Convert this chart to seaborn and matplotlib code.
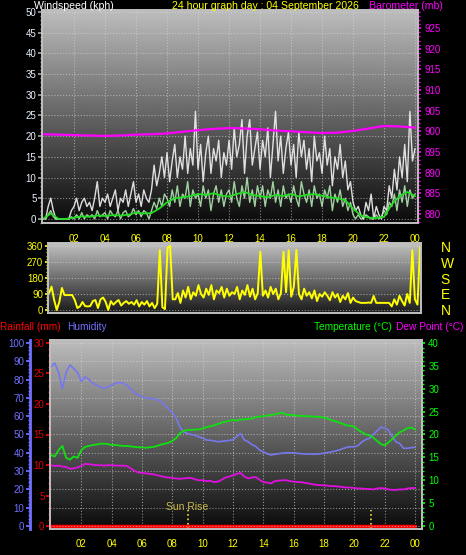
import matplotlib
matplotlib.use("Agg")
import matplotlib.pyplot as plt
from matplotlib.ticker import MultipleLocator
import numpy as np
import pandas as pd
import seaborn as sns

# 10-minute wind samples (rows of 2 hours), last value at 24:00
wind_gust = [
    0, 0, 3, 5, 2, 0, 0, 0, 0, 0, 0, 2,
    3, 5, 2, 4, 5, 3, 4, 2, 5, 9, 3, 5,
    4, 6, 3, 5, 7, 2, 5, 4, 7, 3, 6, 9,
    4, 6, 3, 7, 5, 4, 7, 13, 8, 11, 15, 10,
    16, 9, 14, 18, 10, 15, 12, 20, 11, 17, 13, 26,
    12, 18, 9, 16, 20, 11, 17, 14, 19, 10, 16, 13,
    19, 12, 22, 15, 18, 24, 11, 20, 24, 13, 17, 21,
    12, 19, 15, 22, 10, 18, 26, 14, 20, 11, 17, 21,
    13, 18, 10, 21, 15, 19, 12, 17, 9, 20, 14, 16,
    11, 20, 13, 17, 8, 15, 12, 18, 10, 14, 7, 9,
    4, 2, 3, 1, 0, 4, 2, 6, 0, 3, 1, 0,
    3, 2, 8, 5, 12, 7, 15, 10, 18, 9, 26, 14,
    17,
]
wind_avg = [
    0, 0, 1, 2, 0.5, 0, 0, 0, 0, 0, 0, 0.5,
    0, 1, 0, 1.5, 0, 1, 0.5, 1, 0, 2, 0.5, 1,
    1.5, 0, 2, 1, 0.5, 2, 0, 1.5, 2, 0.5, 1, 2.5,
    1, 2, 0.5, 2, 1.5, 0, 2, 4, 2.5, 5, 3, 6,
    5, 3, 7, 4, 8, 3, 6, 5, 9, 3, 7, 5,
    6, 3, 8, 5, 7, 2, 6, 8, 4, 7, 3, 6,
    7, 4, 9, 5, 3, 8, 5, 10, 4, 7, 3, 8,
    5, 8, 3, 7, 5, 9, 4, 7, 3, 8, 5, 6,
    4, 8, 5, 3, 9, 6, 4, 7, 3, 8, 5, 6,
    3, 7, 5, 8, 2, 6, 4, 7, 3, 5, 2, 4,
    1, 0, 1, 0, 0, 1, 0.5, 0, 0, 1, 0, 0.5,
    2, 1, 4, 3, 6, 2, 7, 4, 8, 3, 7, 5,
    6,
]
wind_dir = [
    95, 131, 56, 0, 45, 124, 84, 84, 84, 84, 56, 11,
    20, 45, 22, 20, 22, 50, 56, 11, 60, 70, 45, 0,
    50, 30, 45, 56, 25, 40, 50, 35, 45, 30, 55, 20,
    45, 30, 50, 20, 40, 10, 35, 337, 15, 5, 350, 360,
    60, 60, 95, 40, 110, 70, 130, 60, 100, 80, 140, 90,
    70, 120, 85, 140, 60, 110, 95, 130, 70, 120, 80, 100,
    90, 130, 60, 110, 85, 140, 75, 120, 60, 95, 328, 80,
    110, 70, 130, 90, 120, 60, 95, 328, 100, 337, 75, 130,
    337, 90, 60, 120, 80, 100, 65, 110, 50, 90, 75, 100,
    80, 55, 100, 70, 90, 45, 80, 60, 95, 40, 70, 50,
    45, 40, 40, 40, 42, 40, 79, 40, 40, 40, 40, 40,
    40, 20, 60, 30, 80, 50, 25, 90, 40, 337, 60, 30,
    354,
]
# half-hourly smoothed wind average
wind_avg10 = [
    0, 1.3, 0, 0, 0.3, 0.6, 0.5, 0.8, 0.7, 0.9, 0.8, 1.0,
    1.5, 1.3, 1.4, 2.5, 4.0, 5.0, 5.2, 5.5, 6.0, 5.8, 6.2, 5.6,
    5.4, 6.0, 6.5, 5.8, 5.5, 5.2, 5.8, 5.5, 6.0, 5.4, 5.8, 6.0,
    5.6, 5.2, 5.0, 4.5, 2.5, 0.8, 0.3, 0.2, 0.5, 3.5, 5.5, 6.5,
    5.5,
]
# hourly barometer
barometer = [
    899.3, 899.2, 899.1, 899.0, 898.9, 899.0, 899.2, 899.3, 899.5, 899.9,
    900.3, 900.6, 900.8, 900.7, 900.5, 900.2, 900.0, 899.8, 899.6, 899.7,
    900.1, 900.7, 901.3, 901.2, 900.9,
]
# quarter-hourly temperature / humidity / dew point
humidity = [
    87, 89, 84, 75, 84, 88, 86, 84, 79, 81.5, 80, 78,
    77, 76, 75.3, 76, 77, 78, 78.5, 78, 77, 75, 73, 71.5,
    70.6, 70, 69.7, 69.5, 69, 68, 66, 64, 62, 59, 54, 51.5,
    50.5, 50, 49.6, 48.7, 48, 47, 46.8, 46.5, 46, 46.3, 46.5, 46.8,
    47, 49, 50.5, 47, 46, 44.5, 43.5, 41.5, 40.5, 39.5, 38.8, 39.2,
    39.5, 39.8, 40, 40, 40, 39.7, 39.5, 39.4, 39.3, 39.3, 39.3, 39.5,
    39.8, 40.2, 40.5, 41, 41.5, 42.3, 43, 43.3, 43.3, 44, 46, 47.2,
    48, 50, 52, 54, 53.5, 52.4, 48.7, 46, 45, 42.4, 42.5, 42.8,
    43,
]
temperature = [
    15.5, 15.2, 16.6, 17.5, 14.9, 14.5, 15.2, 14.9, 16.6, 17.3, 17.5, 17.7,
    17.8, 18.0, 18.0, 17.9, 17.7, 17.7, 17.6, 17.5, 17.5, 17.4, 17.3, 17.2,
    17.2, 17.1, 17.2, 17.3, 17.5, 17.8, 18.0, 18.2, 18.6, 19.2, 20.3, 20.8,
    21.0, 21.0, 21.1, 21.1, 21.3, 21.6, 21.8, 22.0, 22.3, 22.6, 22.8, 23.0,
    23.2, 23.0, 23.3, 23.3, 23.4, 23.5, 23.8, 23.9, 24.0, 24.1, 24.3, 24.4,
    24.6, 24.8, 24.3, 24.3, 24.2, 24.1, 24.1, 24.0, 24.0, 23.9, 23.9, 23.8,
    23.7, 23.5, 23.1, 22.9, 22.6, 22.3, 22.0, 21.9, 21.7, 21.0, 20.5, 20.0,
    19.8, 19.3, 18.6, 17.9, 17.6, 18.3, 19.0, 19.8, 20.5, 20.9, 21.4, 21.5,
    21.1,
]
dew_point = [
    13.3, 13.1, 13.2, 13.0, 12.9, 12.5, 12.6, 12.8, 13.1, 13.6, 13.5, 13.4,
    13.3, 13.3, 13.2, 13.3, 13.3, 13.2, 13.2, 13.2, 13.1, 12.6, 12.1, 11.7,
    11.6, 11.5, 11.4, 11.3, 11.1, 10.9, 10.7, 10.6, 10.5, 10.4, 10.3, 10.4,
    10.5, 10.5, 10.2, 10.0, 10.0, 9.8, 9.9, 9.6, 9.7, 10.1, 10.6, 10.8,
    11.1, 11.4, 11.6, 10.8, 10.4, 10.6, 10.7, 10.1, 9.6, 9.5, 9.3, 9.8,
    9.9, 10.0, 10.0, 9.8, 9.7, 9.6, 9.6, 9.4, 9.3, 9.1, 9.0, 8.9,
    8.9, 8.8, 8.7, 8.7, 8.6, 8.5, 8.4, 8.4, 8.3, 8.2, 8.2, 8.1,
    8.1, 8.0, 8.2, 8.3, 8.2, 8.0, 7.9, 7.9, 8.0, 8.0, 8.2, 8.3,
    8.3,
]
rain_hours = [0, 24]
rainfall = [0, 0]
sun_events = [9.0, 21.07]

hour_labels = ["02", "04", "06", "08", "10", "12", "14", "16", "18", "20", "22", "00"]
hour_ticks = list(range(2, 25, 2))

YELLOW = "#ffff00"
MAGENTA = "#ff00ff"
GREEN = "#00ff00"
BLUE = "#7070ff"
RED = "#ff0000"
FRAME = "#c0c0c0"

wind = pd.DataFrame({"hour": np.arange(len(wind_gust)) / 6.0, "gust": wind_gust,
                     "avg": wind_avg, "dir": wind_dir})
avg10 = pd.DataFrame({"hour": np.arange(len(wind_avg10)) / 2.0, "avg10": wind_avg10})
baro = pd.DataFrame({"hour": np.arange(len(barometer)), "baro": barometer})
thp = pd.DataFrame({"hour": np.arange(len(humidity)) / 4.0, "hum": humidity,
                    "temp": temperature, "dew": dew_point})

sns.set_theme(style="dark", rc={"axes.facecolor": "black", "figure.facecolor": "black"})
plt.rcParams["font.family"] = ["Liberation Sans", "DejaVu Sans"]

W, H = 466, 555
fig = plt.figure(figsize=(W / 100, H / 100), dpi=100)
fig.patch.set_facecolor("black")


def px_axes(x0, y0, x1, y1):
    return fig.add_axes([x0 / W, 1 - y1 / H, (x1 - x0) / W, (y1 - y0) / H])


def shade(ax, top, bottom):
    grad = np.linspace(top, bottom, 256).reshape(-1, 1)
    ax.imshow(grad, cmap="gray", vmin=0, vmax=1, aspect="auto",
              extent=[0, 1, 0, 1], transform=ax.transAxes, zorder=0)


def frame(ax):
    for s in ax.spines.values():
        s.set_color(FRAME)
        s.set_linewidth(1.2)


grid_kw = dict(color="#d8d8d8", linestyle=":", linewidth=0.8, alpha=0.6)

# ---- windspeed / barometer ----
ax1 = px_axes(42, 10, 418, 223)
shade(ax1, 0.74, 0.04)
sns.lineplot(data=wind, x="hour", y="gust", ax=ax1, color="#f2f2f2", lw=1.0, alpha=0.9)
sns.lineplot(data=wind, x="hour", y="avg", ax=ax1, color="#b8f0b8", lw=1.0, alpha=0.85)
sns.lineplot(data=avg10, x="hour", y="avg10", ax=ax1, color="#22dd22", lw=1.3)
ax1.set_xlim(-0.065, 24.19)
ax1.set_ylim(-1, 50.5)
ax1.set_xticks(hour_ticks, hour_labels)
ax1.yaxis.set_major_locator(MultipleLocator(5))
ax1.yaxis.set_minor_locator(MultipleLocator(1))
ax1.tick_params(axis="x", colors="#909090", labelcolor=YELLOW, labelsize=7, length=2, pad=6)
ax1.tick_params(axis="y", which="major", colors="#a0a0a0", labelcolor="#e8f0ff",
                labelsize=7, length=3, pad=1, left=True)
ax1.tick_params(axis="y", which="minor", colors="#909090", length=1.5, left=True)
ax1.grid(True, **grid_kw)
ax1.set_xlabel("")
ax1.set_ylabel("")
frame(ax1)

ax1b = ax1.twinx()
sns.lineplot(data=baro, x="hour", y="baro", ax=ax1b, color=MAGENTA, lw=1.6)
ax1b.set_ylim(877.8, 929.4)
ax1b.set_yticks(range(880, 926, 5))
ax1b.yaxis.set_minor_locator(MultipleLocator(1))
ax1b.tick_params(axis="y", which="major", colors=MAGENTA, labelcolor=MAGENTA,
                 labelsize=7, length=2.5, pad=2, right=True)
ax1b.tick_params(axis="y", which="minor", colors=MAGENTA, length=1.5, right=True)
ax1b.set_ylabel("")
ax1b.grid(False)
frame(ax1b)

# ---- wind direction ----
ax2 = px_axes(48, 243, 421, 313)
shade(ax2, 0.76, 0.1)
sns.lineplot(data=wind, x="hour", y="dir", ax=ax2, color=YELLOW, lw=1.4)
ax2.set_xlim(-0.065, 24.06)
ax2.set_ylim(-17, 377)
ax2.set_xticks([])
ax2.set_yticks([0, 90, 180, 270, 360])
ax2.yaxis.set_minor_locator(MultipleLocator(18))
ax2.tick_params(axis="y", which="major", colors=YELLOW, labelcolor=YELLOW,
                labelsize=7, length=2.5, pad=1, left=True)
ax2.tick_params(axis="y", which="minor", colors=YELLOW, length=1.5, left=True)
ax2.grid(True, axis="y", **grid_kw)
ax2.set_xlabel("")
ax2.set_ylabel("")
frame(ax2)

ax2r = ax2.twinx()
ax2r.set_ylim(-17, 377)
ax2r.set_yticks([0, 90, 180, 270, 360], ["N", "E", "S", "W", "N"])
ax2r.tick_params(axis="y", colors=YELLOW, labelsize=10, length=0, pad=14)
ax2r.grid(False)
frame(ax2r)

# ---- rainfall / humidity / temperature / dew point ----
ax3 = px_axes(50, 340, 422, 529)
shade(ax3, 0.74, 0.04)
sns.lineplot(x=rain_hours, y=rainfall, ax=ax3, color=RED, lw=2.5, zorder=3)
ax3.set_xlim(-0.066, 24.46)
ax3.set_ylim(-0.49, 30.49)
ax3.set_xticks(hour_ticks, hour_labels)
ax3.yaxis.set_major_locator(MultipleLocator(5))
ax3.yaxis.set_minor_locator(MultipleLocator(1))
ax3.tick_params(axis="x", colors="#909090", labelcolor=YELLOW, labelsize=7, length=2, pad=5)
ax3.tick_params(axis="y", which="major", colors=RED, labelcolor="#e00000",
                labelsize=7, length=3, pad=1, left=True)
ax3.tick_params(axis="y", which="minor", colors=RED, length=1.5, left=True)
ax3.grid(True, axis="x", **grid_kw)
ax3.set_xlabel("")
ax3.set_ylabel("")
frame(ax3)

ax3h = ax3.twinx()
sns.lineplot(data=thp, x="hour", y="hum", ax=ax3h, color="#7878ee", lw=1.2)
ax3h.set_ylim(-1.64, 101.64)
ax3h.yaxis.set_ticks_position("left")
ax3h.spines["left"].set_position(("axes", -20 / 372))
ax3h.spines["left"].set_visible(True)
ax3h.spines["right"].set_visible(False)
ax3h.spines["top"].set_visible(False)
ax3h.spines["bottom"].set_visible(False)
ax3h.spines["left"].set_color(BLUE)
ax3h.spines["left"].set_linewidth(2)
ax3h.yaxis.set_major_locator(MultipleLocator(10))
ax3h.yaxis.set_minor_locator(MultipleLocator(2))
ax3h.tick_params(axis="y", which="major", colors=BLUE, labelcolor=BLUE,
                 labelsize=7, length=3, pad=1, left=True, right=False)
ax3h.tick_params(axis="y", which="minor", colors=BLUE, length=1.5, left=True, right=False)
ax3h.grid(True, axis="y", **grid_kw)
ax3h.set_axisbelow(True)
ax3h.set_ylabel("")

ax3t = ax3.twinx()
sns.lineplot(data=thp, x="hour", y="temp", ax=ax3t, color="#10e010", lw=1.3)
sns.lineplot(data=thp, x="hour", y="dew", ax=ax3t, color="#e010e0", lw=1.3)
ax3t.set_ylim(-0.656, 40.656)
ax3t.yaxis.set_major_locator(MultipleLocator(5))
ax3t.yaxis.set_minor_locator(MultipleLocator(1))
ax3t.tick_params(axis="y", which="major", colors=GREEN, labelcolor=GREEN,
                 labelsize=7, length=2.5, pad=2, right=True)
ax3t.tick_params(axis="y", which="minor", colors=GREEN, length=1.5, right=True)
ax3t.grid(False)
ax3t.set_ylabel("")
ax3t.vlines(sun_events, -0.6, 3.5, colors="#e8e040", linestyles=":", lw=1.2)
ax3t.text(sun_events[0], 4.2, "Sun Rise", color="#c8b848", fontsize=7.5,
          ha="center", va="center")
frame(ax3t)

# ---- header texts ----
head = 7.6
fig.text(34 / W, 1 - 6 / H, "Windspeed (kph)", color="white", fontsize=head, va="center")
fig.text(172 / W, 1 - 6 / H, "24 hour graph day : 04 September 2026", color=YELLOW,
         fontsize=head, va="center")
fig.text(443 / W, 1 - 6 / H, "Barometer (mb)", color=MAGENTA, fontsize=head,
         va="center", ha="right")
leg = 7.3
fig.text(0, 1 - 327 / H, "Rainfall (mm)", color=RED, fontsize=leg, va="center")
fig.text(67 / W, 1 - 327 / H, "Humidity", color=BLUE, fontsize=leg, va="center")
fig.text(392 / W, 1 - 327 / H, "Temperature (°C)", color=GREEN, fontsize=leg,
         va="center", ha="right")
fig.text(463 / W, 1 - 327 / H, "Dew Point (°C)", color=MAGENTA, fontsize=leg,
         va="center", ha="right")

fig.savefig("out.png", dpi=100, facecolor="black")
